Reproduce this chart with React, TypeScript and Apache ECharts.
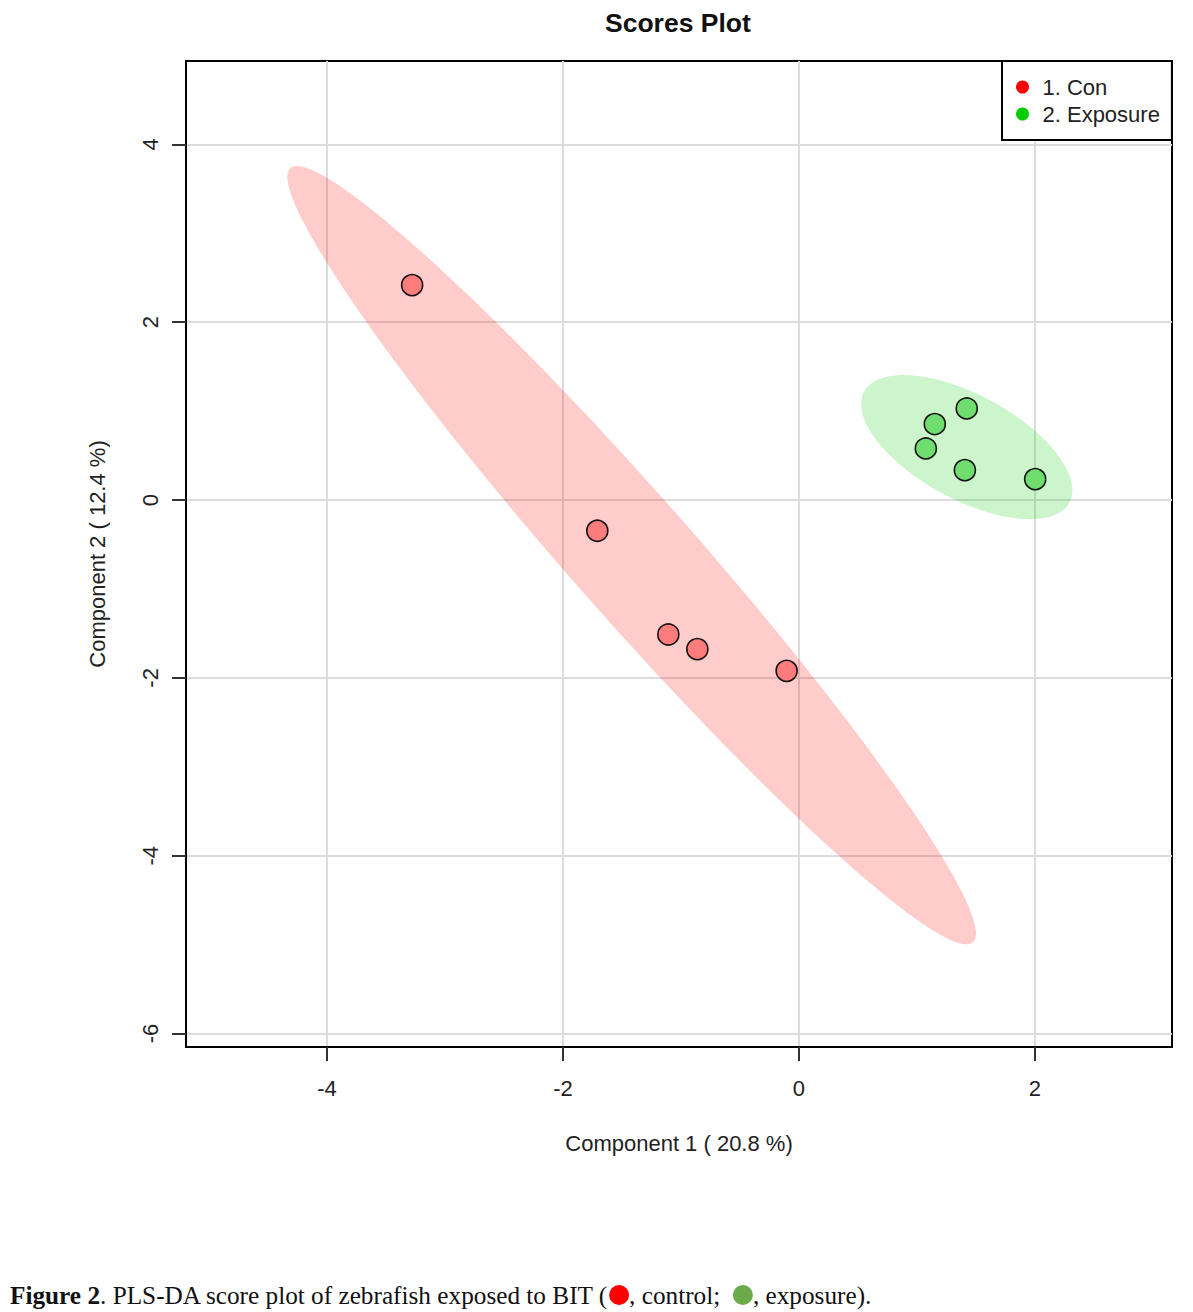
import React, { useEffect, useRef } from "react";
import * as echarts from "echarts";

// Tick values and axis ranges
const xTicks = [-4, -2, 0, 2];
const yTicks = [-6, -4, -2, 0, 2, 4];
const xRange = [-5.196, 3.163];
const yRange = [-6.151, 4.937];

// Scores (Component 1, Component 2)
const conX = [-3.279, -1.709, -1.107, -0.861, -0.104];
const conY = [2.417, -0.346, -1.512, -1.677, -1.921];
const expX = [1.423, 1.152, 1.076, 1.407, 2.003];
const expY = [1.03, 0.854, 0.58, 0.336, 0.235];

// Confidence ellipses: centre (x, y), semi-diameter u (x, y), conjugate semi-diameter v (x, y)
const conEllipse = [-1.418, -0.62, 2.893, -4.353, 0.388, 0.453];
const expEllipse = [1.423, 0.595, 0.895, -0.484, 0, 0.65];

const groupNames = ["1. Con", "2. Exposure"];
const titleText = "Scores Plot";
const xName = "Component 1 ( 20.8 %)";
const yName = "Component 2 ( 12.4 %)";

const FONT = "Liberation Sans, Arial, sans-serif";

function ellipseRenderer(fill: string) {
  return (params: any, api: any) => {
    const cx = api.value(0);
    const cy = api.value(1);
    const ux = api.value(2);
    const uy = api.value(3);
    const vx = api.value(4);
    const vy = api.value(5);
    const pts: number[][] = [];
    const n = 160;
    for (let i = 0; i <= n; i++) {
      const t = (i / n) * Math.PI * 2;
      const c = Math.cos(t);
      const s = Math.sin(t);
      pts.push(api.coord([cx + ux * c + vx * s, cy + uy * c + vy * s]));
    }
    return {
      type: "polygon",
      shape: { points: pts },
      style: { fill, stroke: "none" },
    };
  };
}

export default function App() {
  const ref = useRef<HTMLDivElement>(null);
  useEffect(() => {
    if (!ref.current) return;
    const chart = echarts.init(ref.current, undefined, { renderer: "svg" });
    const axisCommon = {
      type: "value",
      nameLocation: "middle",
      nameTextStyle: { fontSize: 22, fontFamily: FONT, color: "#222" },
      axisLine: { show: true, onZero: false, lineStyle: { color: "#000", width: 2 } },
      splitLine: { show: true, lineStyle: { color: "#dcdcdc", width: 2 } },
    };
    chart.setOption({
      animation: false,
      backgroundColor: "#ffffff",
      title: {
        text: titleText,
        left: 600,
        top: 4,
        textStyle: { fontSize: 26.5, fontWeight: "bold", fontFamily: FONT, color: "#111" },
      },
      grid: {
        left: 186,
        top: 61,
        right: 21,
        bottom: 265,
        show: true,
        borderColor: "#000",
        borderWidth: 2,
        backgroundColor: "transparent",
      },
      legend: {
        orient: "vertical",
        left: 1002,
        top: 61,
        padding: [15, 12, 15, 14],
        itemWidth: 30,
        itemHeight: 13,
        itemGap: 5,
        selectedMode: false,
        borderColor: "#000",
        borderWidth: 2,
        backgroundColor: "#fff",
        textStyle: { fontSize: 22, fontFamily: FONT, color: "#222" },
        data: [
          { name: groupNames[0], icon: "circle", itemStyle: { color: "#ff0000", borderWidth: 0 } },
          { name: groupNames[1], icon: "circle", itemStyle: { color: "#00cc00", borderWidth: 0 } },
        ],
      },
      xAxis: {
        ...axisCommon,
        min: xRange[0],
        max: xRange[1],
        name: xName,
        nameGap: 85,
        axisTick: { show: true, customValues: xTicks, length: 14, lineStyle: { color: "#333", width: 2 } },
        axisLabel: { customValues: xTicks, margin: 30, fontSize: 22, fontFamily: FONT, color: "#222" },
      },
      yAxis: {
        ...axisCommon,
        min: yRange[0],
        max: yRange[1],
        name: yName,
        nameGap: 78,
        axisTick: { show: true, customValues: yTicks, length: 14, lineStyle: { color: "#333", width: 2 } },
        axisLabel: { customValues: yTicks, margin: 25, rotate: 90, fontSize: 22, fontFamily: FONT, color: "#222" },
      },
      series: [
        {
          type: "custom",
          name: "Con ellipse",
          silent: true,
          z: 1,
          encode: { x: 0, y: 1 },
          data: [conEllipse],
          renderItem: ellipseRenderer("rgba(255,0,0,0.2)"),
        },
        {
          type: "custom",
          name: "Exposure ellipse",
          silent: true,
          z: 1,
          encode: { x: 0, y: 1 },
          data: [expEllipse],
          renderItem: ellipseRenderer("rgba(0,205,0,0.2)"),
        },
        {
          type: "scatter",
          name: groupNames[0],
          z: 3,
          symbol: "circle",
          symbolSize: 21,
          itemStyle: { color: "#ff7c7c", borderColor: "#111", borderWidth: 1.6, opacity: 1 },
          data: conX.map((x, i) => [x, conY[i]]),
        },
        {
          type: "scatter",
          name: groupNames[1],
          z: 3,
          symbol: "circle",
          symbolSize: 21,
          itemStyle: { color: "#6fde6f", borderColor: "#111", borderWidth: 1.6, opacity: 1 },
          data: expX.map((x, i) => [x, expY[i]]),
        },
      ],
      graphic: [
        {
          type: "text",
          x: 10,
          y: 1295,
          style: {
            text: "{b|Figure 2}. PLS-DA score plot of zebrafish exposed to BIT ({r|}, control;  {g|}, exposure).",
            fontFamily: "Liberation Serif, Times New Roman, serif",
            fontSize: 25.25,
            fill: "#111",
            verticalAlign: "middle",
            rich: {
              b: { fontWeight: "bold", fontSize: 25.25, fontFamily: "Liberation Serif, Times New Roman, serif" },
              r: { width: 20, height: 20, borderRadius: 10, backgroundColor: "#ff0000" },
              g: { width: 20, height: 20, borderRadius: 10, backgroundColor: "#6aaa4a" },
            },
          },
        },
      ],
    });
    return () => chart.dispose();
  }, []);
  return (
    <div
      ref={ref}
      style={{ position: "absolute", left: 0, top: 0, width: 1193, height: 1312 }}
    />
  );
}
